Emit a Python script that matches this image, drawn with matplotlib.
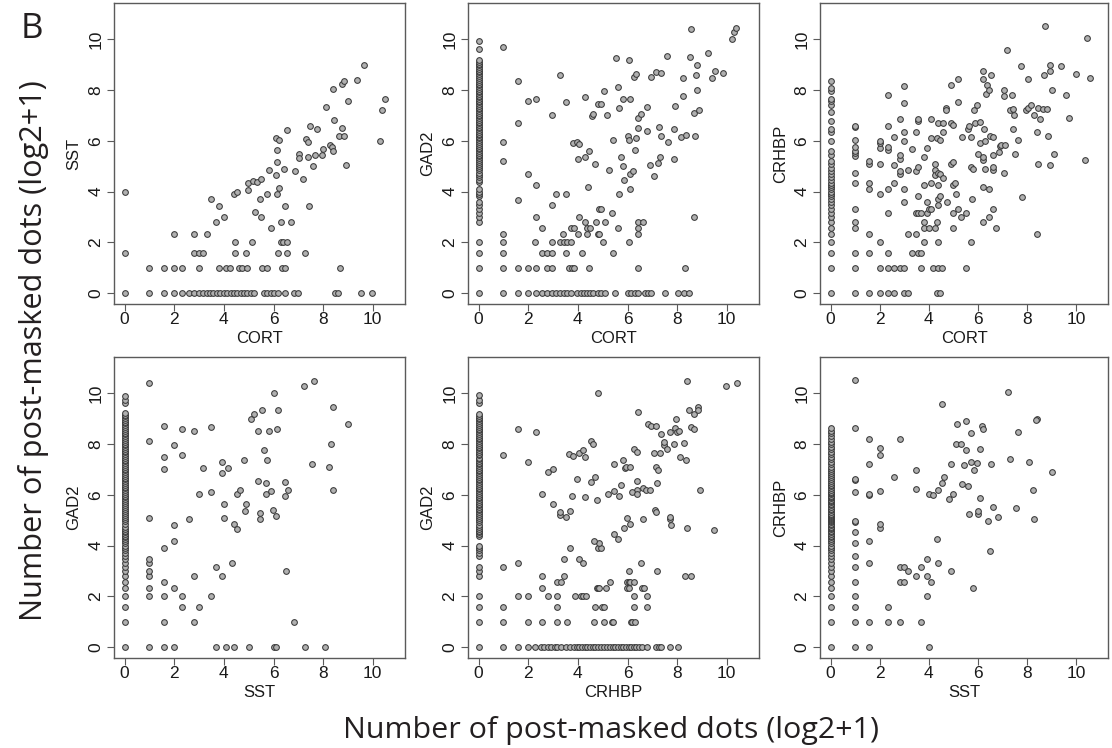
import matplotlib
matplotlib.use("Agg")
import matplotlib.pyplot as plt

# all values are log2(count + 1) of post-masked dots per cell

# ---- CORT (x) vs SST (y) ----
cort_sst_rows = {  # y value -> x values sitting on that row
    0: [0, 1.0, 1.58, 2.0, 2.32, 2.58, 2.78, 2.99, 3.15, 3.31, 3.45, 3.58, 3.73, 3.86,
        4.0, 4.14, 4.27, 4.41, 4.54, 4.68, 4.81, 4.95, 5.08, 5.2, 5.6, 5.74, 5.88, 6.03,
        6.19, 6.46, 6.84, 7.0, 8.49, 8.58, 9.54, 9.95],
    1: [1.0, 1.58, 2.0, 2.32, 3.0, 3.81, 4.09, 4.25, 4.6, 4.73, 4.93, 5.54, 5.74, 6.36, 6.46, 8.69],
    1.58: [0, 2.81, 3.0, 3.17, 4.46, 4.88, 6.17, 6.55, 7.27],
    2: [4.46, 5.15, 6.3, 6.39, 6.55],
    2.32: [2.0, 2.81, 3.32],
}
cort_sst_pts = [
    (0, 4.0), (3.46, 3.70), (3.8, 3.44), (3.69, 2.80), (3.99, 2.99), (4.39, 3.90), (4.53, 3.98),
    (4.99, 4.33), (4.99, 4.07), (5.16, 4.40), (5.34, 4.38), (5.51, 4.51), (5.27, 3.18), (5.5, 2.99),
    (5.47, 3.70), (5.74, 3.90), (5.82, 4.86), (5.89, 2.56), (6.08, 4.65), (6.08, 6.12), (6.22, 6.02),
    (6.14, 5.63), (6.14, 5.16), (6.16, 3.90), (6.24, 4.16), (6.32, 2.80), (6.42, 4.90), (6.46, 3.44),
    (6.54, 6.43), (6.70, 2.80), (6.86, 4.80), (7.03, 5.47), (7.03, 5.33), (7.18, 4.51), (7.3, 6.09),
    (7.38, 5.96), (7.38, 5.35), (7.42, 3.45), (7.47, 6.57), (7.59, 4.99), (7.69, 5.46), (7.74, 6.46),
    (7.95, 5.46), (7.99, 5.68), (8.12, 7.32), (8.27, 5.84), (8.35, 5.75), (8.38, 5.58), (8.41, 8.04),
    (8.42, 6.81), (8.65, 6.19), (8.78, 6.50), (8.85, 6.17), (8.78, 8.23), (8.86, 8.36), (8.93, 5.04),
    (9.01, 7.55), (9.36, 8.40), (9.66, 8.98), (10.28, 6.0), (10.39, 7.21), (10.5, 7.65),
]

# ---- CORT (x) vs GAD2 (y) ----
cort_gad2_col0 = [
    0, 1, 1.58, 2, 2.81, 3.0, 3.17, 3.32, 3.46, 3.58, 3.81, 3.91, 4.0, 4.09, 4.39, 4.47, 4.58,
    4.66, 4.75, 4.86, 4.93, 5.0, 5.09, 5.17, 5.25, 5.32, 5.39, 5.46, 5.52, 5.6, 5.67, 5.73, 5.8,
    5.88, 5.95, 6.02, 6.1, 6.15, 6.21, 6.28, 6.34, 6.42, 6.49, 6.55, 6.63, 6.7, 6.76, 6.82, 6.9,
    6.97, 7.03, 7.1, 7.18, 7.24, 7.3, 7.38, 7.45, 7.51, 7.57, 7.64, 7.71, 7.78, 7.85, 7.91, 7.98,
    8.05, 8.12, 8.18, 8.25, 8.32, 8.4, 8.47, 8.55, 8.62, 8.7, 8.77, 8.84, 8.9, 8.97, 9.04, 9.1,
    9.17, 9.6, 9.92,
]
cort_gad2_rows = {
    0: [1.0, 1.58, 2.0, 2.32, 2.54, 2.75, 2.94, 3.10, 3.26, 3.42, 3.58, 3.71, 3.95, 4.11, 4.25,
        4.35, 4.49, 4.62, 4.81, 4.95, 5.11, 5.49, 6.02, 6.15, 6.29, 6.44, 6.70, 6.84, 6.94, 7.50,
        8.04, 8.28, 8.49],
    1: [1.0, 1.58, 2.0, 2.32, 2.75, 2.94, 3.63, 3.77, 3.85, 4.43, 6.44, 8.3],
    1.58: [1.0, 2.54, 2.75, 2.94, 3.52, 4.17, 5.43],
    2: [1.0, 2.28, 2.94, 3.26, 3.42, 3.58, 3.74, 5.0, 6.06],
    2.32: [1.0, 3.39, 4.02, 4.35, 4.81, 4.86, 6.44],
    2.58: [2.54, 3.72, 3.85, 4.35, 4.49, 5.63, 6.44],
    2.81: [4.3, 4.73, 5.1, 6.44, 6.62],
}
cort_gad2_pts = [
    (2.32, 3.0), (4.03, 3.0), (8.68, 2.99), (5.39, 3.17), (4.87, 3.32), (4.95, 3.32), (2.94, 3.46),
    (3.12, 3.9), (3.54, 3.9), (5.66, 3.9), (6.1, 4.1), (4.39, 4.17), (2.32, 4.24), (1.58, 3.67),
    (1.58, 6.71), (1.58, 8.37), (1, 5.2), (1, 5.97), (1, 9.71), (2, 4.69), (2, 7.56), (2.32, 7.65),
    (5.86, 4.46), (6.1, 4.7), (6.23, 4.8), (5.26, 4.85), (5.82, 5.0), (4.67, 5.1), (4.02, 5.3),
    (4.3, 5.35), (5.75, 5.37), (6.3, 5.63), (7.86, 5.28), (6.9, 5.03), (7.21, 5.13), (7.29, 5.38),
    (7.06, 4.63), (4.46, 5.6), (3.82, 5.9), (3.95, 5.97), (4.03, 5.89), (5.43, 6.02), (6.0, 6.18),
    (6.07, 6.02), (6.34, 6.13), (6.44, 6.51), (6.77, 6.39), (7.28, 6.54), (7.36, 6.18), (7.62, 5.94),
    (7.86, 6.46), (8.14, 6.15), (8.37, 6.23), (8.73, 6.18), (4.57, 6.96), (4.62, 7.06), (5.19, 7.03),
    (5.65, 7.28), (6.44, 6.89), (6.53, 7.05), (6.77, 7.35), (7.9, 7.36), (8.24, 7.77), (8.68, 7.1),
    (8.88, 7.2), (8.8, 8.02), (2.94, 7.01), (3.54, 7.52), (4.3, 7.74), (4.81, 7.47), (4.95, 7.45),
    (5.07, 7.97), (5.82, 7.65), (6.12, 7.65), (5.63, 8.12), (3.26, 8.58), (6.26, 8.5), (6.33, 8.64),
    (6.94, 8.5), (7.16, 8.71), (7.33, 8.67), (8.25, 8.49), (8.77, 8.58), (9.41, 8.48), (9.52, 8.77),
    (9.83, 8.66), (8.8, 8.98), (9.23, 9.46), (7.58, 9.36), (5.54, 9.25), (6.06, 9.17), (8.53, 9.32),
    (8.56, 10.41), (10.2, 10.01), (10.28, 10.28), (10.39, 10.46),
]

# ---- CORT (x) vs CRHBP (y) ----
cort_crhbp_col0 = [
    0, 1, 1.58, 2, 2.32, 2.58, 2.81, 3.0, 3.17, 3.32, 3.46, 3.58, 3.7, 3.81, 3.91, 4.0, 4.09,
    4.17, 4.25, 4.32, 4.46, 4.58, 4.7, 4.81, 4.91, 5.09, 5.2, 5.43, 5.58, 6.0, 6.34, 6.45, 6.8,
    7.14, 7.4, 7.55, 7.66, 7.95, 8.07, 8.35,
]
cort_crhbp_cols = {  # x value -> y values stacked in that column
    1: [0, 1, 1.58, 2.58, 2.81, 3.32, 4.32, 4.75, 5.4, 5.52, 5.6, 5.75, 6.05, 6.55, 6.6],
    1.58: [0, 1.58, 2.32, 4.09, 4.32, 5.09, 5.2],
    2: [0, 1, 2, 3.91, 5.09, 5.7, 5.9, 6.0],
    2.32: [0, 1, 1.58, 3.17, 4.09, 5.65, 5.75, 6.58, 7.8],
    2.58: [0, 1, 4.32, 5.05, 6.15],
    2.81: [1, 4.7, 4.81, 5.3, 5.45, 6.85],
    3.0: [0, 1, 3.58, 4.09, 6.0, 6.35, 7.5, 8.15],
}
cort_crhbp_pts = [
    (3.17, 0), (3.17, 2.32), (3.17, 4.85), (3.32, 1.58), (3.32, 5.67), (3.46, 2.32), (3.46, 3.17),
    (3.46, 4.81), (3.46, 6.35), (3.58, 1.58), (3.58, 3.17), (3.58, 3.81), (3.58, 4.95), (3.58, 6.8),
    (3.58, 6.85), (3.7, 1), (3.7, 1.58), (3.7, 3.17), (3.81, 2.0), (3.81, 2.58), (3.81, 2.81),
    (3.81, 4.25), (3.81, 5.36), (3.91, 3.17), (3.91, 3.58), (3.91, 5.7), (4.0, 2.58), (4.0, 3.32),
    (4.09, 3.32), (4.09, 4.32), (4.09, 6.1), (4.09, 6.85), (4.17, 1), (4.25, 2.58), (4.25, 4.85),
    (4.25, 5.1), (4.25, 4.65), (4.32, 0), (4.32, 2.81), (4.32, 6.1), (4.39, 2.0), (4.39, 3.46),
    (4.39, 3.7), (4.39, 4.25), (4.39, 4.75), (4.39, 6.7), (4.39, 1), (4.46, 0), (4.46, 6.05),
    (4.46, 4.7), (4.46, 3.81), (4.52, 1), (4.58, 4.52), (4.58, 6.35), (4.58, 6.7), (4.7, 7.3),
    (4.7, 7.2), (4.75, 3.6), (4.91, 5.1), (4.91, 6.7), (4.91, 8.2), (5.0, 2.58), (5.0, 3.17),
    (5.0, 4.25), (5.05, 4.32), (5.0, 5.15), (5.0, 6.62), (5.1, 3.91), (5.2, 3.32), (5.2, 7.52),
    (5.2, 8.42), (5.3, 3.0), (5.36, 6.15), (5.5, 1.0), (5.5, 3.17), (5.58, 6.45), (5.62, 6.6),
    (5.7, 4.95), (5.7, 2.0), (5.7, 6.15), (5.76, 3.7), (5.8, 4.9), (5.9, 6.7), (5.85, 7.2),
    (5.95, 7.4), (6.0, 5.5), (6.1, 5.9), (6.1, 6.75), (6.2, 2.81), (6.2, 4.17), (6.2, 5.25),
    (6.22, 5.35), (6.2, 8.45), (6.2, 8.75), (6.3, 4.9), (6.3, 6.0), (6.25, 6.45), (6.35, 7.85),
    (6.38, 8.2), (6.45, 3.0), (6.45, 4.09), (6.45, 8.0), (6.5, 6.2), (6.55, 8.6), (6.6, 3.32),
    (6.6, 4.85), (6.6, 4.95), (6.6, 5.45), (6.62, 6.15), (6.75, 2.58), (6.85, 5.55), (6.92, 5.8),
    (6.95, 5.85), (7.05, 4.75), (7.05, 7.75), (7.05, 8.0), (7.1, 5.85), (7.2, 9.58), (7.3, 7.2),
    (7.38, 7.8), (7.45, 6.45), (7.48, 7.0), (7.45, 7.25), (7.5, 5.5), (7.65, 6.05), (7.75, 8.95),
    (7.8, 3.8), (7.98, 7.2), (8.05, 7.3), (8.05, 8.42), (8.15, 7.4), (8.3, 7.0), (8.4, 2.32),
    (8.4, 6.35), (8.45, 5.1), (8.45, 7.3), (8.55, 6.85), (8.65, 7.25), (8.7, 8.6), (8.75, 10.52),
    (8.85, 6.2), (8.82, 7.25), (8.93, 8.75), (8.93, 9.0), (8.93, 5.05), (9.0, 8.0), (9.1, 5.5),
    (9.4, 8.95), (9.6, 7.8), (9.7, 6.9), (10.0, 8.65), (10.35, 5.25), (10.45, 10.05), (10.55, 8.48),
]

# ---- SST (x) vs GAD2 (y) ----
sst_gad2_col0 = [
    0, 1, 1.58, 2, 2.32, 2.58, 2.81, 3.0, 3.17, 3.32, 3.46, 3.58, 3.7, 3.81, 3.91, 4.0, 4.09,
    4.17, 4.25, 4.32, 4.39, 4.46, 4.52, 4.58, 4.64, 4.75, 4.86, 4.95, 5.04, 5.13, 5.2, 5.28,
    5.36, 5.44, 5.52, 5.6, 5.67, 5.75, 5.82, 5.9, 5.97, 6.04, 6.11, 6.18, 6.25, 6.32, 6.4, 6.47,
    6.54, 6.61, 6.68, 6.75, 6.83, 6.9, 6.96, 7.03, 7.1, 7.17, 7.25, 7.32, 7.39, 7.46, 7.53, 7.6,
    7.68, 7.74, 7.81, 7.88, 7.95, 8.02, 8.09, 8.17, 8.24, 8.31, 8.38, 8.45, 8.52, 8.6, 8.67,
    8.74, 8.81, 8.88, 8.95, 9.02, 9.09, 9.16, 9.23, 9.6, 9.75, 9.9,
]
sst_gad2_cols = {
    1: [0, 2, 2.32, 2.81, 3.0, 3.32, 3.46, 5.1, 8.12, 10.42],
    1.58: [0, 1, 2, 2.58, 3.91, 7.0, 7.48, 8.72],
    2: [0, 2.32, 4.17, 4.81, 7.97],
    2.32: [1.58, 2, 7.56, 8.58],
}
sst_gad2_pts = [
    (2.58, 5.05), (2.81, 1), (2.81, 2.81), (2.81, 8.52), (3.0, 1.58), (3.0, 6.02), (3.17, 7.04),
    (3.46, 2), (3.46, 6.12), (3.46, 8.67), (3.7, 0), (3.7, 3.17), (3.91, 2.81), (3.91, 6.85),
    (3.91, 7.28), (4.0, 5.1), (4.0, 5.62), (4.09, 0), (4.17, 7.05), (4.32, 3.32), (4.39, 0),
    (4.39, 4.85), (4.52, 4.65), (4.52, 6.02), (4.64, 6.2), (4.81, 7.38), (4.86, 5.37), (4.91, 5.65),
    (5.0, 0), (5.09, 9.0), (5.2, 9.18), (5.36, 6.55), (5.36, 8.5), (5.45, 5.05), (5.45, 5.3),
    (5.52, 9.35), (5.62, 7.77), (5.7, 6.02), (5.7, 6.45), (5.75, 7.37), (5.83, 8.5), (5.9, 6.15),
    (5.98, 5.4), (6.02, 10.0), (6.02, 0), (6.08, 0), (6.08, 5.15), (6.15, 8.6), (6.2, 9.35),
    (6.45, 5.95), (6.45, 6.52), (6.5, 3.0), (6.58, 6.2), (6.82, 1.0), (7.25, 0), (7.22, 10.27),
    (7.55, 7.22), (7.65, 10.47), (8.08, 0), (8.25, 7.1), (8.3, 8.02), (8.4, 6.2), (8.4, 9.47),
    (9.0, 8.8),
]

# ---- CRHBP (x) vs GAD2 (y) ----
crhbp_gad2_col0 = [
    0, 1, 1.58, 2, 2.81, 3.0, 3.17, 3.58, 3.7, 3.81, 3.91, 4.0, 4.39, 4.46, 4.52, 4.58, 4.64,
    4.75, 4.81, 4.91, 5.0, 5.09, 5.17, 5.25, 5.32, 5.39, 5.46, 5.52, 5.58, 5.64, 5.7, 5.78, 5.86,
    5.93, 6.0, 6.08, 6.15, 6.22, 6.28, 6.35, 6.42, 6.5, 6.57, 6.64, 6.7, 6.78, 6.85, 6.92, 6.99,
    7.06, 7.12, 7.2, 7.27, 7.34, 7.4, 7.47, 7.55, 7.62, 7.69, 7.76, 7.83, 7.9, 7.97, 8.04, 8.11,
    8.18, 8.25, 8.33, 8.4, 8.47, 8.54, 8.61, 8.68, 8.75, 8.82, 8.9, 8.97, 9.04, 9.11, 9.18, 9.6,
    9.75, 9.92,
]
crhbp_gad2_rows = {
    0: [0.99, 1.58, 1.99, 2.28, 2.5, 2.63, 2.79, 2.93, 3.06, 3.17, 3.3, 3.54, 3.7, 3.84, 3.95,
        4.05, 4.16, 4.27, 4.38, 4.48, 4.59, 4.7, 4.81, 4.94, 5.07, 5.18, 5.29, 5.4, 5.5, 5.61,
        5.72, 5.83, 5.93, 6.04, 6.15, 6.26, 6.36, 6.47, 6.58, 6.77, 7.14, 7.25, 7.36, 7.7, 8.05],
    1: [0.99, 1.99, 2.55, 3.14, 3.56, 4.64, 5.07, 5.37, 5.43, 6.15, 6.2, 6.31],
    1.58: [0.99, 3.14, 4.7, 4.99, 5.07, 6.26, 6.77],
    2: [1.58, 1.99, 2.79, 3.14, 3.87, 4.11, 4.21, 4.32, 6.28, 6.77],
    2.32: [2.55, 4.75, 4.81, 4.86, 5.13, 5.96, 6.04, 6.6, 6.68],
    2.58: [3.14, 3.33, 5.29, 5.96, 6.04, 6.12, 6.28],
    2.81: [2.55, 3.44, 8.3, 8.54],
}
crhbp_gad2_pts = [
    (6.04, 3.0), (7.17, 3.0), (1.58, 3.32), (6.55, 3.32), (0.99, 3.17), (3.44, 3.46), (4.05, 3.46),
    (4.21, 3.32), (3.68, 3.9), (4.83, 3.9), (4.94, 3.9), (4.86, 4.1), (4.64, 4.17), (5.6, 4.25),
    (5.45, 4.46), (9.48, 4.63), (8.39, 4.7), (5.85, 4.7), (6.12, 4.85), (6.63, 5.05), (5.96, 5.1),
    (7.7, 5.03), (7.73, 5.12), (7.76, 4.8), (3.28, 5.22), (3.29, 5.31), (3.54, 5.12), (3.68, 5.38),
    (7.11, 5.41), (7.14, 5.31), (2.98, 5.65), (4.77, 5.8), (4.27, 5.9), (3.76, 5.95), (5.64, 5.95),
    (2.55, 6.02), (5.2, 6.02), (5.45, 6.15), (8.91, 6.18), (5.72, 6.39), (6.38, 6.19), (6.62, 6.25),
    (6.74, 6.19), (6.91, 6.19), (7.19, 6.47), (6.17, 6.13), (6.38, 6.05), (6.38, 6.56), (4.54, 6.51),
    (4.67, 6.72), (3.97, 6.63), (2.79, 6.88), (2.98, 7.03), (1.99, 7.28), (0.99, 7.57), (3.65, 7.61),
    (3.79, 7.53), (4.05, 7.66), (4.21, 7.76), (4.3, 7.48), (5.44, 7.23), (5.8, 7.36), (5.91, 7.05),
    (5.95, 7.09), (6.12, 7.1), (6.27, 7.8), (6.38, 7.69), (7.14, 7.09), (7.22, 6.96), (7.07, 7.64),
    (7.32, 7.65), (7.36, 8.4), (7.47, 7.98), (7.49, 8.08), (7.58, 7.8), (7.72, 8.48), (7.89, 8.02),
    (7.92, 8.65), (7.95, 8.98), (7.99, 8.48), (8.08, 8.53), (8.28, 8.03), (8.35, 7.39), (8.11, 7.48),
    (6.82, 8.79), (6.95, 8.7), (7.14, 8.71), (6.42, 9.27), (4.54, 8.11), (4.6, 8.02), (1.58, 8.6),
    (2.31, 8.49), (4.83, 10.01), (8.4, 10.47), (8.48, 9.33), (8.66, 9.17), (8.56, 8.66), (8.66, 8.61),
    (8.83, 9.45), (8.86, 9.33), (9.96, 10.28), (10.4, 10.42),
]

# ---- SST (x) vs CRHBP (y) ----
sst_crhbp_col0 = [
    0, 1, 1.58, 2, 2.32, 2.58, 2.81, 3.0, 3.17, 3.32, 3.46, 3.58, 3.7, 3.81, 3.91, 4.0, 4.09,
    4.17, 4.25, 4.32, 4.39, 4.46, 4.52, 4.58, 4.64, 4.7, 4.75, 4.81, 4.86, 4.91, 4.95, 5.0, 5.04,
    5.09, 5.13, 5.17, 5.2, 5.25, 5.32, 5.39, 5.46, 5.52, 5.58, 5.64, 5.7, 5.75, 5.81, 5.86, 5.91,
    5.95, 6.02, 6.07, 6.13, 6.2, 6.27, 6.34, 6.4, 6.47, 6.55, 6.62, 6.7, 6.77, 6.85, 6.93, 7.0,
    7.1, 7.2, 7.3, 7.4, 7.5, 7.6, 7.7, 7.8, 7.9, 8.0, 8.1, 8.2, 8.3, 8.42, 8.5, 8.65,
]
sst_crhbp_cols = {
    1: [0, 1, 1.58, 2, 2.58, 3.17, 3.58, 4.09, 4.52, 4.91, 4.95, 6.1, 6.6, 6.62, 8.62, 10.52],
    1.58: [0, 1, 3.32, 4.17, 6.0, 6.05, 7.2, 8.2],
    2: [4.7, 4.85, 6.15, 7.55, 7.85],
}
sst_crhbp_pts = [
    (2.32, 1), (2.32, 1.58), (2.58, 6.7), (2.81, 1), (2.81, 2.58), (2.81, 3.17), (2.81, 8.18),
    (3.0, 2.58), (3.0, 3.17), (3.17, 3.0), (3.46, 2.81), (3.46, 6.22), (3.46, 6.98), (3.7, 1),
    (3.7, 3.17), (3.91, 2.0), (3.91, 2.81), (3.91, 3.46), (4.0, 0), (4.0, 6.02), (4.09, 2.58),
    (4.17, 5.98), (4.32, 4.25), (4.39, 3.32), (4.39, 6.17), (4.52, 6.45), (4.52, 9.58), (4.64, 6.72),
    (4.81, 5.85), (4.91, 3.0), (4.91, 7.2), (5.0, 6.05), (5.09, 8.02), (5.17, 8.78), (5.3, 8.0),
    (5.36, 6.42), (5.45, 7.18), (5.5, 7.75), (5.5, 8.92), (5.58, 6.35), (5.64, 5.25), (5.7, 7.28),
    (5.7, 8.45), (5.8, 2.32), (5.86, 6.98), (5.95, 7.24), (6.0, 5.25), (6.0, 5.35), (6.1, 5.87),
    (6.1, 7.82), (6.15, 8.72), (6.2, 8.58), (6.42, 4.95), (6.48, 3.8), (6.52, 7.23), (6.6, 5.52),
    (6.82, 5.12), (7.22, 10.05), (7.32, 7.4), (7.55, 5.5), (7.65, 8.48), (8.08, 7.3), (8.25, 6.18),
    (8.3, 5.05), (8.4, 9.0), (8.38, 8.95), (9.0, 6.88),
]


def gather(col0=(), rows=None, cols=None, pts=()):
    xs, ys = [], []
    for y in col0:
        xs.append(0)
        ys.append(y)
    for y, xl in (rows or {}).items():
        xs += list(xl)
        ys += [y] * len(xl)
    for x, yl in (cols or {}).items():
        xs += [x] * len(yl)
        ys += list(yl)
    for x, y in pts:
        xs.append(x)
        ys.append(y)
    return xs, ys


W, H = 1112, 748
fig = plt.figure(figsize=(W / 100, H / 100), dpi=100)


def rect(l, t, r, b):
    return [l / W, 1 - b / H, (r - l) / W, (b - t) / H]


panels = [
    ("CORT", "SST", gather(rows=cort_sst_rows, pts=cort_sst_pts), rect(114, 3, 405, 304)),
    ("CORT", "GAD2", gather(cort_gad2_col0, cort_gad2_rows, None, cort_gad2_pts), rect(468, 3, 759, 304)),
    ("CORT", "CRHBP", gather(cort_crhbp_col0, None, cort_crhbp_cols, cort_crhbp_pts), rect(820, 3, 1108, 304)),
    ("SST", "GAD2", gather(sst_gad2_col0, None, sst_gad2_cols, sst_gad2_pts), rect(114, 357, 405, 658)),
    ("CRHBP", "GAD2", gather(crhbp_gad2_col0, crhbp_gad2_rows, None, crhbp_gad2_pts), rect(468, 357, 759, 658)),
    ("SST", "CRHBP", gather(sst_crhbp_col0, None, sst_crhbp_cols, sst_crhbp_pts), rect(820, 357, 1108, 658)),
]

axis_font = "Liberation Sans"
edge = "#5a5a5a"
ticks = [0, 2, 4, 6, 8, 10]

for xlab, ylab, (xs, ys), pos in panels:
    ax = fig.add_axes(pos)
    ax.scatter(xs, ys, s=17, c="#b0b0b0", edgecolors="#3a3a3a", linewidths=0.75, zorder=3)
    ax.set_xlim(-0.43, 11.3)
    ax.set_ylim(-0.43, 11.43)
    ax.set_xticks(ticks)
    ax.set_yticks(ticks)
    ax.set_xticklabels([str(t) for t in ticks], fontsize=12.5, family=axis_font, color="#1a1a1a")
    ax.set_yticklabels([str(t) for t in ticks], fontsize=12.5, family=axis_font, color="#1a1a1a",
                       rotation=90, va="center")
    ax.tick_params(axis="both", direction="out", length=5, width=0.8, color=edge)
    ax.tick_params(axis="x", pad=0.5)
    ax.tick_params(axis="y", pad=2.5)
    for sp in ax.spines.values():
        sp.set_color(edge)
        sp.set_linewidth(1.0)
    ax.set_xlabel(xlab, fontsize=12, family=axis_font, color="#1a1a1a")
    ax.xaxis.set_label_coords(0.5, -0.113)
    ax.xaxis.label.set_va("center")
    ax.set_ylabel(ylab, fontsize=12, family=axis_font, color="#1a1a1a")
    ax.yaxis.set_label_coords(-0.138, 0.5)
    ax.yaxis.label.set_va("center")

big = "Number of post-masked dots (log2+1)"
big_font = "Open Sans"
renderer = fig.canvas.get_renderer()


def fit(txt, target, vertical=False):
    # scale font so the text spans `target` pixels
    ext = txt.get_window_extent(renderer=renderer)
    cur = ext.height if vertical else ext.width
    txt.set_fontsize(txt.get_fontsize() * target / cur)


t_bottom = fig.text(611 / W, 1 - 738 / H, big, ha="center", va="baseline",
                    family=big_font, fontsize=20, color="#231f20")
fit(t_bottom, 534)
t_left = fig.text(42 / W, 1 - 351 / H, big, ha="center", va="baseline", rotation=90,
                  rotation_mode="anchor", family=big_font, fontsize=20, color="#231f20")
fit(t_left, 538, vertical=True)
fig.text(32 / W, 1 - 38 / H, "B", ha="center", va="baseline", family=big_font,
         fontsize=25, color="#231f20")

fig.savefig("out.png", dpi=100, facecolor="white")
